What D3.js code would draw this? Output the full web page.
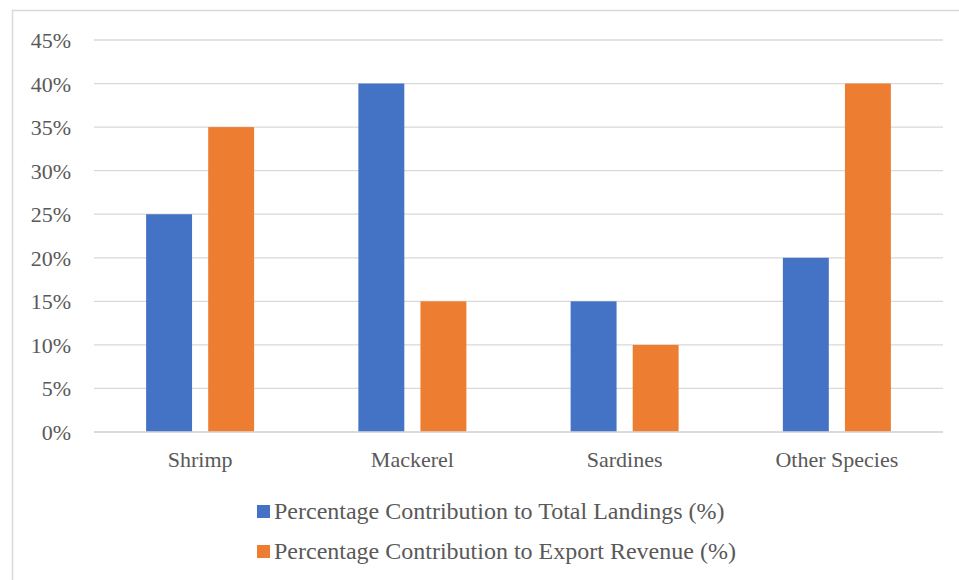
<!DOCTYPE html>
<html>
<head>
<meta charset="utf-8">
<script src="https://cdn.jsdelivr.net/npm/d3@7"></script>
<style>
  html, body { margin: 0; padding: 0; background: #fff; }
  svg { display: block; }
  svg text.lbl { font-family: "Times New Roman", "Liberation Serif", Tinos, serif !important; fill: #595959; }
</style>
</head>
<body>
<svg id="chart" width="959" height="580"></svg>
<script>
// Fishery share by species
const categories = ["Shrimp", "Mackerel", "Sardines", "Other Species"];
const seriesNames = [
  "Percentage Contribution to Total Landings (%)",
  "Percentage Contribution to Export Revenue (%)"
];
const landingsShare = [25, 40, 15, 20];
const exportShare = [35, 15, 10, 40];
const yTicks = [0, 5, 10, 15, 20, 25, 30, 35, 40, 45];
const colors = ["#4472C4", "#ED7D31"];

const seriesValues = [landingsShare, exportShare];

const svg = d3.select("#chart");
const W = 959, H = 580;
const plot = { left: 94, right: 943, top: 40, bottom: 432 };

// chart frame
svg.append("rect")
  .attr("x", 12.5).attr("y", 10.5)
  .attr("width", W + 20).attr("height", H + 20)
  .attr("fill", "#fff").attr("stroke", "#D9D9D9").attr("stroke-width", 1.5);

const x = d3.scaleBand().domain(categories).range([plot.left, plot.right]);
const y = d3.scaleLinear().domain([0, 45]).range([plot.bottom, plot.top]);

// horizontal gridlines
svg.append("g").selectAll("line").data(yTicks).join("line")
  .attr("x1", plot.left).attr("x2", plot.right)
  .attr("y1", d => y(d)).attr("y2", d => y(d))
  .attr("stroke", "#D9D9D9").attr("stroke-width", 1.3);

// y axis labels
const yAxis = d3.axisLeft(y).tickValues(yTicks).tickFormat(d => d + "%").tickSize(0).tickPadding(0);
const gy = svg.append("g").attr("transform", "translate(71,0)").call(yAxis)
  .attr("font-family", null).attr("font-size", null);
gy.select(".domain").remove();
gy.selectAll("text")
  .attr("class", "lbl").style("font-size", "22px")
  .attr("dy", "0.34em");

// bars: two series per category
const inner = d3.scaleBand().domain([0, 1]).range([-54, 54]).paddingInner(0.26);
const barGroups = svg.append("g").selectAll("g").data(categories).join("g")
  .attr("transform", d => `translate(${x(d) + x.bandwidth() / 2},0)`);
barGroups.selectAll("rect")
  .data((c, i) => seriesValues.map((vals, s) => ({ s, v: vals[i] })))
  .join("rect")
  .attr("x", d => inner(d.s))
  .attr("width", inner.bandwidth())
  .attr("y", d => y(d.v))
  .attr("height", d => y(0) - y(d.v))
  .attr("fill", d => colors[d.s]);

// baseline drawn over the bars
svg.append("line")
  .attr("x1", plot.left).attr("x2", plot.right)
  .attr("y1", y(0)).attr("y2", y(0))
  .attr("stroke", "#D9D9D9").attr("stroke-width", 1.5);

// category labels
const xAxis = d3.axisBottom(x).tickSize(0).tickPadding(0);
const gx = svg.append("g").attr("transform", `translate(0,${plot.bottom})`).call(xAxis)
  .attr("font-family", null).attr("font-size", null);
gx.select(".domain").remove();
gx.selectAll("text")
  .attr("class", "lbl").style("font-size", "22px")
  .attr("y", 35).attr("dy", 0);

// legend
const legend = svg.append("g").selectAll("g").data(seriesNames).join("g")
  .attr("transform", (d, i) => `translate(257,${519 + i * 40})`);
legend.append("rect")
  .attr("x", 0).attr("y", -14).attr("width", 13).attr("height", 13)
  .attr("fill", (d, i) => colors[i]);
legend.append("text")
  .attr("class", "lbl")
  .attr("x", 17).attr("y", 0)
  .style("font-size", "24px")
  .text(d => d);
</script>
</body>
</html>
